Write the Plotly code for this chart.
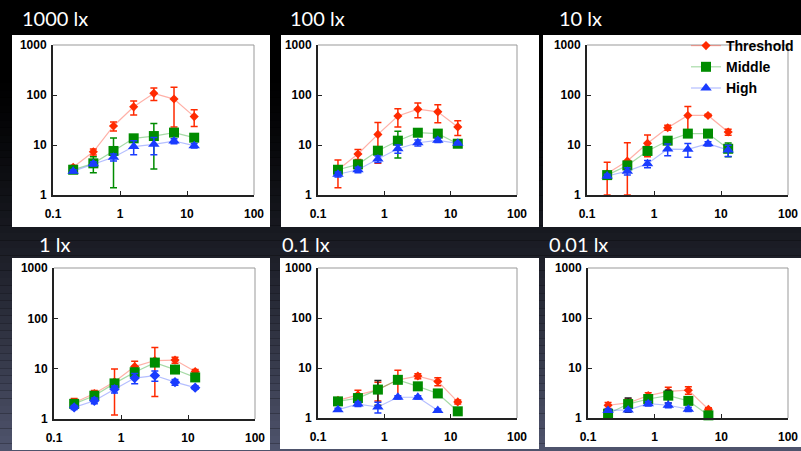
import plotly.graph_objects as go

W, H = 801, 451

x_vals = [0.2, 0.4, 0.8, 1.6, 3.2, 6.4, 12.8]
panel_titles = ["1000 lx", "100 lx", "10 lx", "1 lx", "0.1 lx", "0.01 lx"]
series_names = ["Threshold", "Middle", "High"]
x_tick_vals = [0.1, 1, 10, 100]
x_tick_text = ["0.1", "1", "10", "100"]
y_tick_vals = [1, 10, 100, 1000]
y_tick_text = ["1", "10", "100", "1000"]

# 1000 lx
thr_1000 = [3.6, 7.3, 24, 58, 108, 83, 37]
thr_1000_sd = [0.3, 1.0, 5, 18, 30, 60, 13.5]
mid_1000 = [3.2, 4.3, 7.6, 13.6, 15.1, 17.7, 14]
mid_1000_sd = [0.2, 1.5, 6.2, 1.0, 11.8, 2.0, 0.8]
hig_1000 = [3.0, 4.2, 5.7, 9.3, 10.3, 12, 9.7]
hig_1000_sd = [0.2, 0.4, 0.9, 2.9, 3.9, 1.4, 1.0]

# 100 lx
thr_100 = [3.2, 6.6, 16.3, 38, 52, 46, 23]
thr_100_sd = [1.8, 1.5, 12, 15, 17, 18, 7.5]
mid_100 = [3.2, 4.1, 7.7, 12.2, 17.6, 16.9, 10.6]
mid_100_sd = [0.3, 0.4, 1.2, 6.7, 1.5, 1.0, 0.8]
hig_100 = [2.6, 3.2, 5.25, 8.4, 11.1, 12.4, 10.8]
hig_100_sd = [0.3, 0.4, 0.8, 1.6, 1.5, 1.2, 0.6]

# 10 lx
thr_10 = [2.7, 4.8, 10.8, 22.2, 39, 39, 18.2]
thr_10_sd = [1.8, 6.3, 5, 2.5, 20, 2, 2.5]
mid_10 = [2.5, 3.9, 7.6, 12.2, 16.9, 16.9, 8.4]
mid_10_sd = [0.3, 0.5, 0.8, 0.6, 1.2, 1.2, 2.6]
hig_10 = [2.4, 3.0, 4.2, 8.3, 8.2, 10.6, 7.9]
hig_10_sd = [0.2, 0.5, 0.7, 2.2, 2.5, 1.0, 2.0]

# 1 lx
thr_1 = [2.1, 3.2, 5.5, 11, 14.5, 14.8, 8.8]
thr_1_sd = [0.45, 0.5, 4.3, 3, 11.7, 2, 0.8]
mid_1 = [2.0, 2.9, 5.1, 8.5, 13.2, 9.6, 6.7]
mid_1_sd = [0.2, 0.3, 0.5, 0.6, 1.0, 0.6, 0.4]
hig_1 = [1.7, 2.3, 3.9, 6.5, 7.3, 5.4, 4.2]
hig_1_sd = [0.15, 0.3, 0.6, 1.5, 1.7, 0.7, 0.3]

# 0.1 lx
thr_01 = [2.25, 2.9, 3.7, 5.8, 6.9, 5.4, 2.1]
thr_01_sd = [0.3, 0.7, 1.5, 3.2, 0.8, 1.0, 0.2]
mid_01 = [2.15, 2.5, 3.7, 5.8, 4.3, 3.1, 1.36]
mid_01_sd = [0.2, 0.5, 1.9, 0.8, 0.3, 0.3, 0.1]
hig_01 = [1.47, 1.9, 1.66, 2.6, 2.6, 1.42, None]
hig_01_sd = [0.1, 0.2, 0.4, 0.2, 0.2, 0.1, 0]

# 0.01 lx
thr_001 = [1.8, 2.0, 2.8, 3.4, 3.6, 1.5, None]
thr_001_sd = [0.25, 0.4, 0.4, 0.7, 0.6, 0.1, 0]
mid_001 = [1.22, 1.9, 2.4, 2.8, 2.2, 1.13, None]
mid_001_sd = [0.1, 0.6, 0.5, 0.8, 0.2, 0.05, 0]
hig_001 = [1.42, 1.45, 1.93, 1.8, 1.5, None, None]
hig_001_sd = [0.1, 0.1, 0.2, 0.2, 0.15, 0, 0]

panels_data = [
    [(thr_1000, thr_1000_sd), (mid_1000, mid_1000_sd), (hig_1000, hig_1000_sd)],
    [(thr_100, thr_100_sd), (mid_100, mid_100_sd), (hig_100, hig_100_sd)],
    [(thr_10, thr_10_sd), (mid_10, mid_10_sd), (hig_10, hig_10_sd)],
    [(thr_1, thr_1_sd), (mid_1, mid_1_sd), (hig_1, hig_1_sd)],
    [(thr_01, thr_01_sd), (mid_01, mid_01_sd), (hig_01, hig_01_sd)],
    [(thr_001, thr_001_sd), (mid_001, mid_001_sd), (hig_001, hig_001_sd)],
]

# layout (pixels)
plot_boxes = [  # x0, x1, ytop, ybottom of plot area
    (53, 254, 45, 195), (318, 517, 45, 195), (587, 788, 45, 195),
    (54, 255, 268, 419), (318, 517, 268, 418), (588, 788, 268, 418),
]
white_boxes = [
    (12, 270, 35, 227), (281, 539, 35, 227), (543, 801, 35, 227),
    (12, 270, 258, 450), (280, 539, 258, 449), (545, 801, 258, 447),
]
title_pos = [(20, 18), (288, 18), (557, 18), (37, 244), (280, 244), (547, 244)]

marker_colors = ["#ff2a00", "#008c00", "#1a3cff"]
line_colors = ["rgba(255,80,60,0.45)", "rgba(0,150,0,0.35)", "rgba(40,70,255,0.35)"]
symbols = ["diamond", "square", "triangle-up"]
sizes = [7, 10, 10]


def px(x):
    return x / W


def py(y):
    return 1 - y / H


fig = go.Figure()
shapes = []

# background gradient
n_strips = 60
for i in range(n_strips):
    t = (i + 0.5) / n_strips
    f = max(0.0, (t - 0.15) / 0.85) ** 1.4
    r, g, b = int(80 * f), int(85 * f), int(110 * f)
    shapes.append(dict(type="rect", xref="paper", yref="paper", x0=0, x1=1,
                       y0=1 - (i + 1) / n_strips, y1=1 - i / n_strips,
                       fillcolor=f"rgb({r},{g},{b})", line=dict(width=0),
                       layer="below"))
for (x0, x1, y0, y1) in white_boxes:
    shapes.append(dict(type="rect", xref="paper", yref="paper",
                       x0=px(x0), x1=px(x1), y0=py(y1), y1=py(y0),
                       fillcolor="white", line=dict(width=0), layer="below"))

annotations = []
for p in range(6):
    xa = "x" if p == 0 else f"x{p+1}"
    ya = "y" if p == 0 else f"y{p+1}"
    x0, x1, yt, yb = plot_boxes[p]
    xkey = "xaxis" if p == 0 else f"xaxis{p+1}"
    ykey = "yaxis" if p == 0 else f"yaxis{p+1}"
    fig.layout[xkey] = dict(
        domain=[px(x0), px(x1)], anchor=ya, type="log", range=[-1, 2],
        tickvals=x_tick_vals, ticktext=x_tick_text, ticks="inside", ticklen=4,
        tickcolor="#222", showline=True, linecolor="#222", linewidth=2,
        showgrid=False, zeroline=False, fixedrange=True, automargin=False,
        ticklabelstandoff=7,
        tickfont=dict(family="Liberation Sans", size=12, color="black", weight="bold"),
    )
    fig.layout[ykey] = dict(
        domain=[py(yb), py(yt)], anchor=xa, type="log", range=[0, 3],
        tickvals=y_tick_vals, ticktext=y_tick_text, ticks="inside", ticklen=4,
        tickcolor="#222", showline=True, linecolor="#222", linewidth=2,
        showgrid=False, zeroline=False, fixedrange=True, automargin=False,
        ticklabelstandoff=2,
        tickfont=dict(family="Liberation Sans", size=12, color="black", weight="bold"),
    )
    # thin top/right frame
    shapes.append(dict(type="line", xref=f"{xa} domain", yref=f"{ya} domain",
                       x0=0, x1=1, y0=1, y1=1, line=dict(color="#999", width=1)))
    shapes.append(dict(type="line", xref=f"{xa} domain", yref=f"{ya} domain",
                       x0=1, x1=1, y0=0, y1=1, line=dict(color="#999", width=1)))

    tx, ty = title_pos[p]
    annotations.append(dict(text=panel_titles[p], xref="paper", yref="paper",
                            x=px(tx), y=py(ty), xanchor="left", yanchor="middle",
                            showarrow=False,
                            font=dict(family="Lato", size=20, color="white")))

    for s in range(3):
        vals, sd = panels_data[p][s]
        minus = [None if v is None else min(e, v - 1.0) for v, e in zip(vals, sd)]
        sym = symbols[s]
        if p == 3 and s == 2:
            sym = "diamond"
        err_color = marker_colors[s]
        if s == 1 and p >= 4:
            err_color = "#222"
        fig.add_trace(go.Scatter(
            x=x_vals, y=vals, xaxis=xa, yaxis=ya, name=series_names[s],
            mode="lines+markers", showlegend=(p == 2), legendrank=s,
            line=dict(color=line_colors[s], width=1.2),
            marker=dict(symbol=sym, size=sizes[s] if sym != "diamond" or s == 0 else 8,
                        color=marker_colors[s], line=dict(width=0)),
            error_y=dict(type="data", array=sd, arrayminus=minus, symmetric=False,
                         color=err_color, thickness=1.5, width=3.5),
            cliponaxis=False,
        ))

fig.update_layout(
    template="none",
    width=W, height=H, autosize=False, margin=dict(l=0, r=0, t=0, b=0, pad=0),
    paper_bgcolor="black", plot_bgcolor="white",
    shapes=shapes, annotations=annotations,
    showlegend=True,
    legend=dict(x=px(686), y=py(30), xanchor="left", yanchor="top",
                bgcolor="rgba(0,0,0,0)", borderwidth=0,
                font=dict(family="Liberation Sans", size=14, color="black", weight="bold"),
                tracegroupgap=0, itemwidth=30),
)

fig.write_html(
    "out.html",
    config={"displayModeBar": False},
    post_script="document.body.style.margin='0px';document.body.style.overflow='hidden';",
)
